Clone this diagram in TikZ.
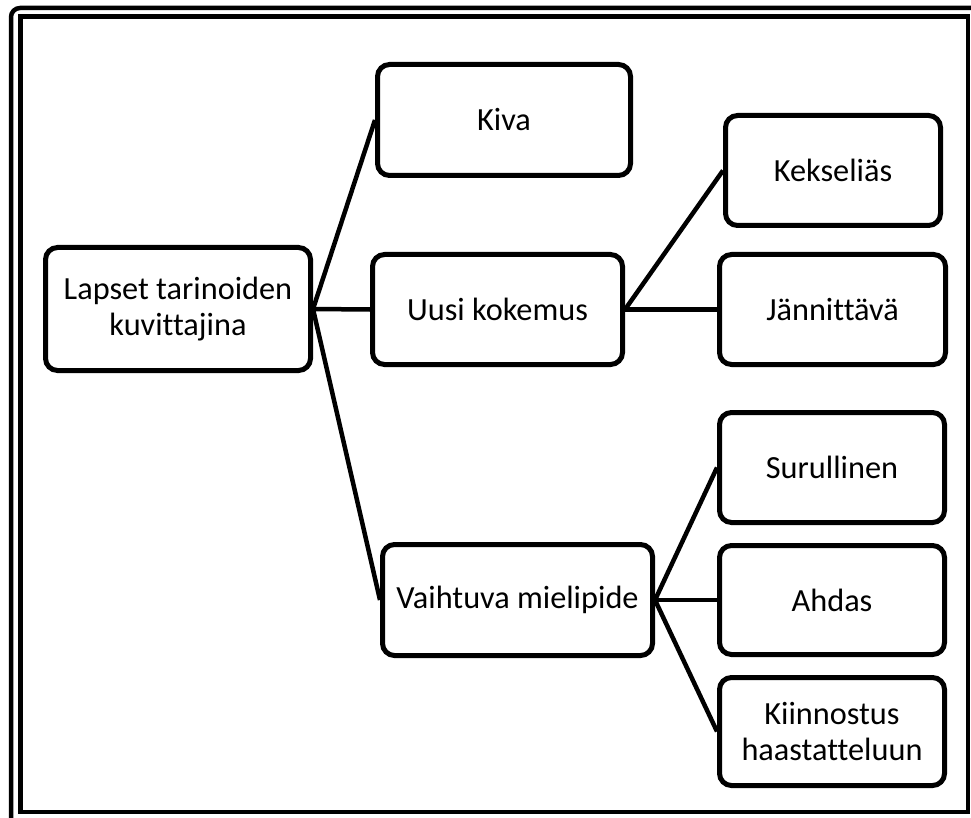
\documentclass[tikz,border=0pt]{standalone}
\usepackage{fontspec}
\setmainfont{Carlito}[Ligatures=NoCommon]
\begin{document}
\begin{tikzpicture}[x=1pt, y=-1pt,
  box/.style={draw=black, line width=5pt, rounded corners=12pt, fill=white,
    align=center, inner sep=0pt, font=\fontsize{32.3}{36}\selectfont},
  link/.style={draw=black, line width=4.5pt},
  frameline/.style={draw=black, line width=4.5pt}]
  \useasboundingbox (0,0) rectangle (971,818);
  \clip (0,0) rectangle (971,818);
  % double frame round the whole chart
  \draw[frameline, rounded corners=9pt] (11,8) rectangle (990,840);
  \draw[frameline] (20.5,16.5) rectangle (968,812);

  % boxes
  \node[box, minimum width=265pt, minimum height=123pt] (root) at (178,309) {Lapset tarinoiden\\kuvittajina};
  \node[box, minimum width=253pt, minimum height=111pt] (kiva) at (504,120) {Kiva};
  \node[box, minimum width=250pt, minimum height=110pt] (uusi) at (497.5,309.5) {Uusi kokemus};
  \node[box, minimum width=270pt, minimum height=111pt] (vaiht) at (517.5,600) {Vaihtuva mielipide};
  \node[box, minimum width=215pt, minimum height=110pt] (kek) at (833,170.5) {Kekseliäs};
  \node[box, minimum width=226pt, minimum height=110pt] (jan) at (832.5,309.5) {Jännittävä};
  \node[box, minimum width=225pt, minimum height=110pt] (sur) at (832,467.5) {Surullinen};
  \node[box, minimum width=225pt, minimum height=109pt] (ahd) at (832,600) {Ahdas};
  \node[box, minimum width=225pt, minimum height=108pt] (kii) at (832,731.5) {Kiinnostus\\haastatteluun};

  % connectors
  \draw[link] (root.east) -- (kiva.west);
  \draw[link] (root.east) -- (uusi.west);
  \draw[link] (root.east) -- (vaiht.west);
  \draw[link] (uusi.east) -- (kek.west);
  \draw[link] (uusi.east) -- (jan.west);
  \draw[link] (vaiht.east) -- (sur.west);
  \draw[link] (vaiht.east) -- (ahd.west);
  \draw[link] (vaiht.east) -- (kii.west);
\end{tikzpicture}
\end{document}
